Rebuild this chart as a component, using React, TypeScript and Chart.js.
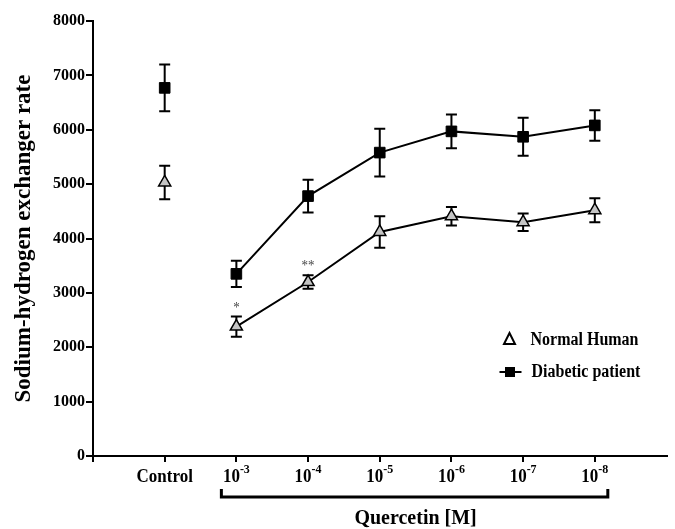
import React, { useEffect, useRef } from "react";
import { Chart, registerables } from "chart.js";

Chart.register(...registerables);

const FONT = '"Liberation Serif", "Times New Roman", Times, serif';

const categories = ["Control", "10^-3", "10^-4", "10^-5", "10^-6", "10^-7", "10^-8"];
const tickBase = ["Control", "10", "10", "10", "10", "10", "10"];
const tickExponent = ["", "-3", "-4", "-5", "-6", "-7", "-8"];

const normalMean = [5030, 2380, 3200, 4120, 4410, 4300, 4520];
const normalSem = [310, 185, 125, 290, 170, 160, 220];
const diabeticMean = [6770, 3350, 4780, 5580, 5970, 5870, 6080];
const diabeticSem = [430, 240, 300, 440, 310, 350, 280];
const significance = ["", "*", "**", "", "", "", ""];

const seriesNames = ["Normal Human", "Diabetic patient"];
const yAxisTitle = "Sodium-hydrogen exchanger rate";
const xAxisTitle = "Quercetin [M]";

const toPoints = (vals: number[]) => vals.map((v, i) => ({ x: i + 1, y: v }));

const STRETCH = 1.12;

function drawText(ctx: CanvasRenderingContext2D, text: string, x: number, y: number, sy: number) {
  ctx.save();
  ctx.translate(x, y);
  ctx.scale(1, sy);
  ctx.fillText(text, 0, 0);
  ctx.restore();
}

const annotations = {
  id: "annotations",
  beforeDatasetsDraw(chart: any) {
    const { ctx } = chart;
    const xs = chart.scales.x;
    const ys = chart.scales.y;
    ctx.save();
    ctx.strokeStyle = "#000";
    ctx.lineWidth = 2;
    const sets: [number[], number[]][] = [
      [normalMean, normalSem],
      [diabeticMean, diabeticSem],
    ];
    sets.forEach(([m, s]) => {
      m.forEach((v, i) => {
        const px = xs.getPixelForValue(i + 1);
        const top = ys.getPixelForValue(v + s[i]);
        const bot = ys.getPixelForValue(v - s[i]);
        ctx.beginPath();
        ctx.moveTo(px, top);
        ctx.lineTo(px, bot);
        ctx.moveTo(px - 5.5, top);
        ctx.lineTo(px + 5.5, top);
        ctx.moveTo(px - 5.5, bot);
        ctx.lineTo(px + 5.5, bot);
        ctx.stroke();
      });
    });
    ctx.restore();
  },
  afterDraw(chart: any) {
    const { ctx, chartArea } = chart;
    const xs = chart.scales.x;
    const ys = chart.scales.y;
    ctx.save();
    ctx.fillStyle = "#000";
    ctx.textBaseline = "alphabetic";

    // x tick labels
    const baseY = xs.top + 26;
    categories.forEach((_, i) => {
      const px = xs.getPixelForValue(i + 1);
      const base = tickBase[i];
      const exp = tickExponent[i];
      ctx.font = `bold 17px ${FONT}`;
      const wb = ctx.measureText(base).width;
      ctx.font = `bold 12px ${FONT}`;
      const we = exp ? ctx.measureText(exp).width : 0;
      const start = px - (wb + we) / 2;
      ctx.font = `bold 17px ${FONT}`;
      ctx.textAlign = "left";
      drawText(ctx, base, start, baseY, STRETCH);
      if (exp) {
        ctx.font = `bold 12px ${FONT}`;
        drawText(ctx, exp, start + wb, baseY - 9, STRETCH);
      }
    });

    // bracket
    const L = xs.getPixelForValue(2) - 15;
    const R = xs.getPixelForValue(7) + 13;
    ctx.strokeStyle = "#000";
    ctx.lineWidth = 3;
    ctx.beginPath();
    ctx.moveTo(L, xs.top + 33);
    ctx.lineTo(L, xs.top + 41);
    ctx.lineTo(R, xs.top + 41);
    ctx.lineTo(R, xs.top + 33);
    ctx.stroke();

    // x title
    ctx.font = `bold 20px ${FONT}`;
    ctx.textAlign = "center";
    drawText(ctx, xAxisTitle, (xs.getPixelForValue(2) + xs.getPixelForValue(7)) / 2, xs.top + 68, 1.05);

    // significance marks
    ctx.font = `13px ${FONT}`;
    ctx.fillStyle = "#444";
    significance.forEach((s, i) => {
      if (!s) return;
      const px = xs.getPixelForValue(i + 1);
      const top = ys.getPixelForValue(normalMean[i] + normalSem[i]);
      drawText(ctx, s, px, top - 5, 1.1);
    });

    // legend
    const lx = chartArea.right - 157;
    const ly1 = chartArea.top + 318;
    const ly2 = chartArea.top + 351;
    ctx.fillStyle = "#000";
    ctx.strokeStyle = "#000";
    ctx.lineWidth = 2;
    // triangle
    ctx.beginPath();
    ctx.moveTo(lx, ly1 - 6);
    ctx.lineTo(lx + 5.5, ly1 + 5);
    ctx.lineTo(lx - 5.5, ly1 + 5);
    ctx.closePath();
    ctx.fillStyle = "#fff";
    ctx.fill();
    ctx.stroke();
    // square + line
    ctx.beginPath();
    ctx.moveTo(lx - 10, ly2);
    ctx.lineTo(lx + 12, ly2);
    ctx.stroke();
    ctx.fillStyle = "#000";
    ctx.fillRect(lx - 4.5, ly2 - 5, 10, 10);
    ctx.font = `bold 16px ${FONT}`;
    ctx.textAlign = "left";
    drawText(ctx, seriesNames[0], lx + 21, ly1 + 6, STRETCH);
    drawText(ctx, seriesNames[1], lx + 22, ly2 + 5, STRETCH);

    ctx.restore();
  },
};

export default function App() {
  const ref = useRef<HTMLCanvasElement | null>(null);
  useEffect(() => {
    if (!ref.current) return;
    const hideFirst = (c: any) => (c.p0DataIndex === 0 ? "rgba(0,0,0,0)" : "#000");
    const chart = new Chart(ref.current, {
      type: "line",
      data: {
        datasets: [
          {
            label: seriesNames[0],
            data: toPoints(normalMean),
            borderColor: "#000",
            borderWidth: 2,
            pointStyle: "triangle",
            pointRadius: 7,
            pointBackgroundColor: "#c4c4c4",
            pointBorderColor: "#000",
            pointBorderWidth: 1.5,
            segment: { borderColor: hideFirst },
          },
          {
            label: seriesNames[1],
            data: toPoints(diabeticMean),
            borderColor: "#000",
            borderWidth: 2,
            pointStyle: "rect",
            pointRadius: 7.5,
            pointBackgroundColor: "#000",
            pointBorderColor: "#000",
            pointBorderWidth: 1,
            segment: { borderColor: hideFirst },
          },
        ],
      },
      options: {
        animation: false,
        responsive: true,
        maintainAspectRatio: false,
        layout: { padding: { top: 21, right: 6, bottom: 0, left: 0 } },
        plugins: {
          legend: { display: false },
          tooltip: { enabled: false },
        },
        scales: {
          x: {
            type: "linear",
            min: 0,
            max: 8,
            ticks: { display: false, stepSize: 1 },
            grid: {
              drawOnChartArea: false,
              drawTicks: true,
              tickLength: 6,
              lineWidth: 2,
              color: (c: any) => (c.tick && c.tick.value === 8 ? "rgba(0,0,0,0)" : "#000"),
            },
            border: { display: true, color: "#000", width: 2 },
            afterFit: (s: any) => {
              s.height = 73;
            },
          },
          y: {
            min: 0,
            max: 8000,
            ticks: {
              stepSize: 1000,
              color: "#000",
              padding: 1,
              font: { family: FONT, size: 16, weight: "bold" },
              callback: (v: any) => String(v),
            },
            grid: {
              drawOnChartArea: false,
              drawTicks: true,
              tickLength: 7,
              lineWidth: 2,
              color: "#000",
            },
            border: { display: true, color: "#000", width: 2 },
            title: {
              display: true,
              text: yAxisTitle,
              color: "#000",
              font: { family: FONT, size: 23, weight: "bold" },
              padding: { top: 10, bottom: 0 },
            },
            afterFit: (s: any) => {
              s.width = 93;
            },
          },
        },
      },
      plugins: [annotations],
    });
    return () => chart.destroy();
  }, []);
  return (
    <div style={{ position: "absolute", left: 0, top: 0, width: 675, height: 529, background: "#fff" }}>
      <canvas ref={ref} />
    </div>
  );
}
